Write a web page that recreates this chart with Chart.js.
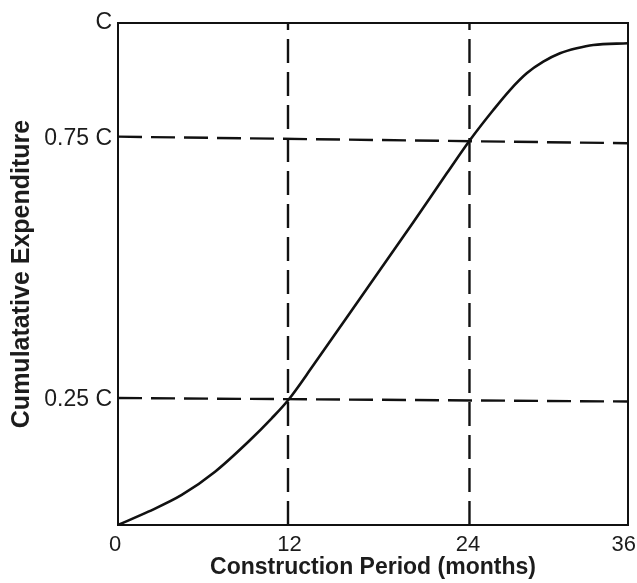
<!DOCTYPE html>
<html>
<head>
<meta charset="utf-8">
<script src="https://cdn.jsdelivr.net/npm/chart.js@4/dist/chart.umd.min.js"></script>
<style>
  html, body { margin: 0; padding: 0; background: #ffffff; }
  canvas { display: block; }
</style>
</head>
<body>
<canvas id="c" width="637" height="583"></canvas>
<script>
// ---- Data (axis coordinates: months, fraction of C) ----
const curveMonths = [0, 2.14, 4.50, 6.85, 9.20, 10.85, 12.02, 13.76, 16.16, 18.49, 20.82, 23.22, 24.85, 26.49, 27.67, 28.85, 30.02, 31.20, 32.38, 33.55, 36];
const curveShare  = [0, 0.0265, 0.0598, 0.1062, 0.1659, 0.2125, 0.249, 0.317, 0.414, 0.508, 0.602, 0.701, 0.767, 0.8267, 0.8665, 0.8998, 0.9229, 0.9396, 0.9496, 0.9562, 0.9596];

// tick label positions as they sit in the picture
const xTickValues = [-0.2, 12.1, 24.7, 35.7];
const xTickLabels = ['0', '12', '24', '36'];
const yTickValues = [0.25, 0.77, 1];
const yTickLabels = ['0.25 C', '0.75 C', 'C'];

// reference (dashed) lines: [x1, y1, x2, y2]
const guideVertical12   = [12, 0, 12, 1];
const guideVertical24   = [24.81, 0, 24.81, 1];
const guideHorizontal25 = [0, 0.253, 36, 0.246];
const guideHorizontal75 = [0, 0.7736, 36, 0.7605];

const xTitle = 'Construction Period (months)';
const yTitle = 'Cumulatative Expenditure';

// ---- Build chart ----
const ink = '#111111';
const textInk = '#1c1c1c';
const fam = 'Liberation Sans, Arial, sans-serif';
const toSeg = g => [{x: g[0], y: g[1]}, {x: g[2], y: g[3]}];
const dashed = g => ({
  data: toSeg(g),
  borderColor: ink,
  borderWidth: 2.4,
  borderDash: [24, 9],
  pointRadius: 0,
  tension: 0,
  fill: false
});

new Chart(document.getElementById('c'), {
  type: 'line',
  data: {
    datasets: [
      dashed(guideVertical12),
      dashed(guideVertical24),
      dashed(guideHorizontal25),
      dashed(guideHorizontal75),
      {
        data: curveMonths.map((m, i) => ({x: m, y: curveShare[i]})),
        borderColor: ink,
        borderWidth: 2.6,
        pointRadius: 0,
        cubicInterpolationMode: 'monotone',
        fill: false
      }
    ]
  },
  options: {
    responsive: false,
    animation: false,
    events: [],
    plugins: { legend: { display: false }, tooltip: { enabled: false } },
    layout: { padding: 0 },
    scales: {
      x: {
        type: 'linear', position: 'bottom', min: 0, max: 36,
        grid: { display: false, drawTicks: false },
        border: { display: true, color: ink, width: 2 },
        afterBuildTicks: s => { s.ticks = xTickValues.map(v => ({value: v})); },
        ticks: {
          padding: 7, color: textInk, maxRotation: 0, autoSkip: false,
          font: { family: fam, size: 22 },
          callback: (v, i) => xTickLabels[i]
        },
        title: {
          display: true, text: xTitle, color: textInk,
          font: { family: fam, size: 23, weight: 'bold' },
          padding: { top: 0, bottom: 2 }
        },
        afterFit: s => { s.height = 58; s.paddingLeft = 0; s.paddingRight = 0; }
      },
      x2: {
        type: 'linear', position: 'top', min: 0, max: 36,
        grid: { display: false, drawTicks: false },
        border: { display: true, color: ink, width: 2 },
        ticks: { display: false },
        afterFit: s => { s.height = 23; s.paddingLeft = 0; s.paddingRight = 0; }
      },
      y: {
        type: 'linear', position: 'left', min: 0, max: 1,
        grid: { display: false, drawTicks: false },
        border: { display: true, color: ink, width: 2 },
        afterBuildTicks: s => { s.ticks = yTickValues.map(v => ({value: v})); },
        ticks: {
          padding: 6, color: textInk, autoSkip: false,
          font: { family: fam, size: 23 },
          callback: (v, i) => yTickLabels[i]
        },
        title: {
          display: true, text: yTitle, color: textInk,
          font: { family: fam, size: 25, weight: 'bold' },
          padding: { top: 7, bottom: 0 }
        },
        afterFit: s => { s.width = 118; s.paddingTop = 0; s.paddingBottom = 0; }
      },
      y2: {
        type: 'linear', position: 'right', min: 0, max: 1,
        grid: { display: false, drawTicks: false },
        border: { display: true, color: ink, width: 2 },
        ticks: { display: false },
        afterFit: s => { s.width = 9; s.paddingTop = 0; s.paddingBottom = 0; }
      }
    }
  }
});
</script>
</body>
</html>
